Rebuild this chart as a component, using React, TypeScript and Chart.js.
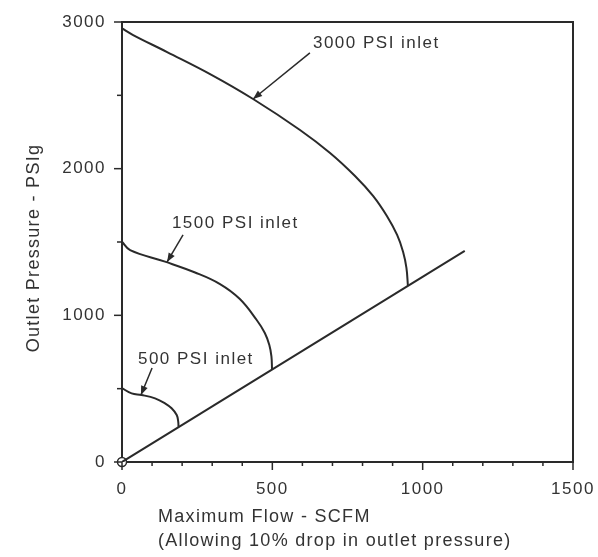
import React, { useEffect, useRef } from "react";
import { Chart, registerables } from "chart.js";

Chart.register(...registerables);

// ---- data ----
const X_MIN = 0;
const X_MAX = 1500;
const Y_MIN = 0;
const Y_MAX = 3000;
const X_MAJOR = 500;
const X_MINOR = 100;
const Y_MAJOR = 1000;
const Y_MINOR = 500;

const OUTLET_LINE_X = [0, 1140];
const OUTLET_LINE_Y = [0, 1440];

const INLET_3000_X = [0, 37, 150, 299, 436, 592, 692, 775, 835, 881, 915, 935, 946, 951];
const INLET_3000_Y = [2956, 2911, 2795, 2638, 2475, 2264, 2107, 1950, 1814, 1677, 1548, 1432, 1323, 1200];

const INLET_1500_X = [0, 27, 143, 243, 326, 392, 448, 475, 490, 497, 499];
const INLET_1500_Y = [1502, 1445, 1366, 1292, 1213, 1111, 968, 880, 798, 720, 630];

const INLET_500_X = [0, 32, 65, 110, 143, 165, 182, 187, 188];
const INLET_500_Y = [503, 468, 457, 434, 400, 366, 320, 275, 240];

const ORIGIN_X = [0];
const ORIGIN_Y = [0];

const CURVE_LABELS = ["3000 PSI inlet", "1500 PSI inlet", "500 PSI inlet"];
// label anchor (text left / middle) and arrow start -> arrow tip, in data units
const LABEL_X = [635, 166, 53];
const LABEL_Y = [2857, 1630, 702];
const ARROW_FROM_X = [625, 203, 100];
const ARROW_FROM_Y = [2789, 1548, 641];
const ARROW_TO_X = [436, 150, 63];
const ARROW_TO_Y = [2475, 1364, 457];

const X_TITLE = ["Maximum Flow - SCFM", "(Allowing 10% drop in outlet pressure)"];
const Y_TITLE = "Outlet Pressure - PSIg";

const INK = "#2a2a2a";
const TEXT = "#333333";
const FONT = "'Liberation Sans', Arial, Helvetica, sans-serif";

const pts = (xs: number[], ys: number[]) => xs.map((x, i) => ({ x, y: ys[i] }));

const decorPlugin = {
  id: "decor",
  beforeLayout(chart: any) {
    chart.ctx.letterSpacing = "1.5px";
  },
  beforeDraw(chart: any) {
    const ctx = chart.ctx;
    ctx.save();
    ctx.fillStyle = "#ffffff";
    ctx.fillRect(0, 0, chart.width, chart.height);
    ctx.restore();
    ctx.letterSpacing = "1.5px";
  },
  afterDraw(chart: any) {
    const ctx = chart.ctx;
    const xs = chart.scales.x;
    const ys = chart.scales.y;
    const ca = chart.chartArea;
    ctx.save();
    ctx.strokeStyle = INK;
    ctx.lineWidth = 2;
    // top and right frame
    ctx.beginPath();
    ctx.moveTo(ca.left, ca.top);
    ctx.lineTo(ca.right, ca.top);
    ctx.lineTo(ca.right, ca.bottom);
    ctx.stroke();

    // tick marks
    ctx.lineWidth = 1.5;
    for (let v = X_MIN; v <= X_MAX; v += X_MINOR) {
      const px = xs.getPixelForValue(v);
      const len = v % X_MAJOR === 0 ? 8 : 4;
      ctx.beginPath();
      ctx.moveTo(px, ca.bottom);
      ctx.lineTo(px, ca.bottom + len);
      ctx.stroke();
    }
    for (let v = Y_MIN; v <= Y_MAX; v += Y_MINOR) {
      const py = ys.getPixelForValue(v);
      const len = v % Y_MAJOR === 0 ? 8 : 5;
      ctx.beginPath();
      ctx.moveTo(ca.left, py);
      ctx.lineTo(ca.left - len, py);
      ctx.stroke();
    }

    // curve labels and arrows
    ctx.fillStyle = TEXT;
    ctx.font = `17px ${FONT}`;
    ctx.textAlign = "left";
    ctx.textBaseline = "middle";
    ctx.letterSpacing = "1.5px";
    CURVE_LABELS.forEach((t, i) => {
      ctx.fillText(t, xs.getPixelForValue(LABEL_X[i]), ys.getPixelForValue(LABEL_Y[i]));
      const x0 = xs.getPixelForValue(ARROW_FROM_X[i]);
      const y0 = ys.getPixelForValue(ARROW_FROM_Y[i]);
      const x1 = xs.getPixelForValue(ARROW_TO_X[i]);
      const y1 = ys.getPixelForValue(ARROW_TO_Y[i]);
      ctx.strokeStyle = INK;
      ctx.lineWidth = 1.5;
      ctx.beginPath();
      ctx.moveTo(x0, y0);
      ctx.lineTo(x1, y1);
      ctx.stroke();
      const a = Math.atan2(y1 - y0, x1 - x0);
      const L = 9;
      const W = 3.5;
      ctx.fillStyle = INK;
      ctx.beginPath();
      ctx.moveTo(x1, y1);
      ctx.lineTo(x1 - L * Math.cos(a) + W * Math.sin(a), y1 - L * Math.sin(a) - W * Math.cos(a));
      ctx.lineTo(x1 - L * Math.cos(a) - W * Math.sin(a), y1 - L * Math.sin(a) + W * Math.cos(a));
      ctx.closePath();
      ctx.fill();
      ctx.fillStyle = TEXT;
    });

    // axis titles
    ctx.font = `18px ${FONT}`;
    ctx.letterSpacing = "1.3px";
    ctx.fillStyle = TEXT;
    ctx.textAlign = "left";
    ctx.fillText(X_TITLE[0], 158, 517);
    ctx.fillText(X_TITLE[1], 158, 541);

    ctx.translate(34, (ca.top + ca.bottom) / 2 + 6);
    ctx.rotate(-Math.PI / 2);
    ctx.textAlign = "center";
    ctx.fillText(Y_TITLE, 0, 0);
    ctx.restore();
  },
};

export default function App() {
  const ref = useRef<HTMLCanvasElement | null>(null);

  useEffect(() => {
    if (!ref.current) return;
    const lineStyle = {
      showLine: true,
      pointRadius: 0,
      borderColor: INK,
      borderWidth: 2,
      tension: 0.4,
      fill: false,
    };
    const chart = new Chart(ref.current, {
      type: "scatter",
      data: {
        datasets: [
          { ...lineStyle, tension: 0, data: pts(OUTLET_LINE_X, OUTLET_LINE_Y) },
          { ...lineStyle, data: pts(INLET_3000_X, INLET_3000_Y) },
          { ...lineStyle, data: pts(INLET_1500_X, INLET_1500_Y) },
          { ...lineStyle, data: pts(INLET_500_X, INLET_500_Y) },
          {
            data: pts(ORIGIN_X, ORIGIN_Y),
            showLine: false,
            pointRadius: 4.5,
            pointStyle: "circle",
            pointBackgroundColor: "#ffffff",
            pointBorderColor: INK,
            pointBorderWidth: 1.5,
            clip: false,
          } as any,
        ] as any,
      },
      options: {
        responsive: false,
        animation: false,
        devicePixelRatio: 1,
        layout: { padding: { top: 22, right: 25, left: 0, bottom: 0 } },
        plugins: {
          legend: { display: false },
          tooltip: { enabled: false },
          title: { display: false },
        },
        events: [],
        scales: {
          x: {
            type: "linear",
            min: X_MIN,
            max: X_MAX,
            border: { display: true, color: INK, width: 2 },
            grid: { display: false, drawTicks: false },
            ticks: {
              stepSize: X_MINOR,
              autoSkip: false,
              maxRotation: 0,
              padding: 17,
              color: TEXT,
              font: { family: FONT, size: 17 },
              callback: (v: any) => (Number(v) % X_MAJOR === 0 ? String(v) : ""),
            },
            afterFit: (s: any) => {
              s.height = 95;
              s.paddingLeft = 0;
              s.paddingRight = 0;
            },
          },
          y: {
            type: "linear",
            min: Y_MIN,
            max: Y_MAX,
            border: { display: true, color: INK, width: 2 },
            grid: { display: false, drawTicks: false },
            ticks: {
              stepSize: Y_MINOR,
              autoSkip: false,
              padding: 16,
              color: TEXT,
              font: { family: FONT, size: 17 },
              callback: (v: any) => (Number(v) % Y_MAJOR === 0 ? String(v) : ""),
            },
            afterFit: (s: any) => {
              s.width = 122;
              s.paddingTop = 0;
              s.paddingBottom = 0;
            },
          },
        },
      } as any,
      plugins: [decorPlugin],
    });
    return () => chart.destroy();
  }, []);

  return (
    <canvas
      ref={ref}
      width={598}
      height={557}
      style={{ position: "absolute", left: 0, top: 0, width: 598, height: 557 }}
    />
  );
}
